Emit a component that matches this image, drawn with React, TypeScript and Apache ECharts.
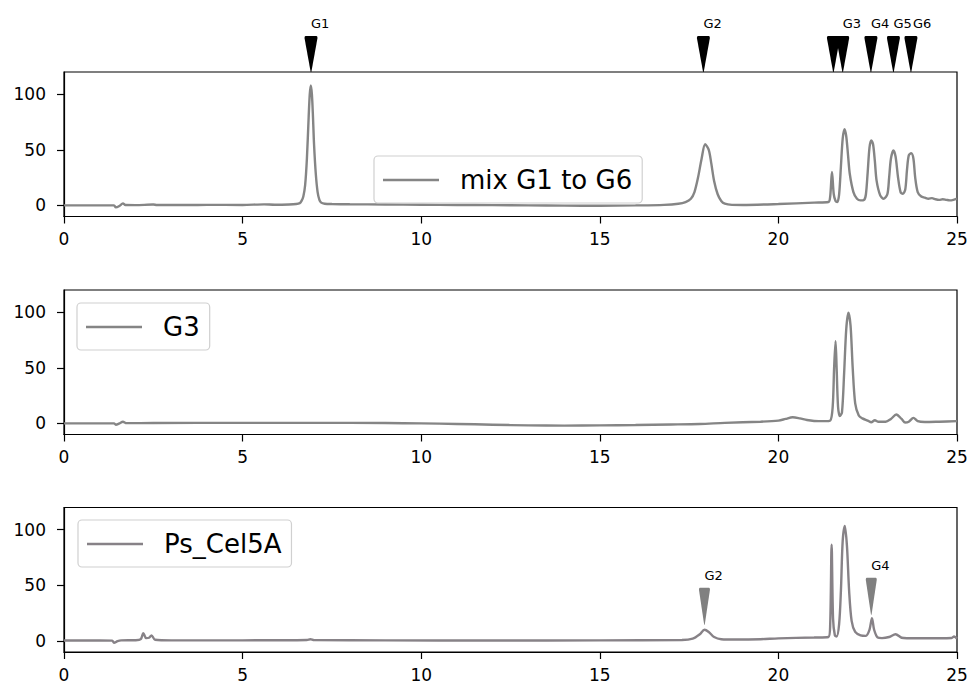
import React, { useEffect, useRef } from "react";
import * as echarts from "echarts";

// ---- Data ----
const mixName = "mix G1 to G6";
const mixX = [0, 1.0, 1.4, 1.45, 1.55, 1.65, 1.72, 2.0, 2.5, 2.6, 3.5, 4.0, 5.0, 5.6, 5.9, 6.3, 6.5, 6.6, 6.65, 6.7, 6.75, 6.8, 6.85, 6.88, 6.91, 6.94, 6.97, 7.0, 7.05, 7.1, 7.15, 7.2, 7.3, 7.5, 8, 9, 10, 11, 12, 13, 14, 15, 16, 16.8, 17.2, 17.4, 17.55, 17.65, 17.75, 17.85, 17.95, 18.05, 18.12, 18.2, 18.3, 18.4, 18.5, 18.7, 19, 20, 21, 21.4, 21.45, 21.5, 21.55, 21.6, 21.65, 21.7, 21.75, 21.8, 21.85, 21.9, 21.95, 22.0, 22.1, 22.2, 22.3, 22.4, 22.45, 22.5, 22.55, 22.6, 22.65, 22.7, 22.75, 22.85, 22.95, 23.05, 23.1, 23.15, 23.22, 23.28, 23.35, 23.42, 23.48, 23.55, 23.6, 23.65, 23.72, 23.78, 23.83, 23.9, 24.0, 24.1, 24.2, 24.3, 24.4, 24.5, 24.6, 24.7, 24.8, 24.9, 25.0];
const mixY = [0, 0, 0, -1.8, -0.5, 1.8, 0.3, 0.2, 0.8, 0.3, 0.3, 0.5, 0.4, 0.9, 0.6, 0.8, 1.2, 2, 4, 8, 18, 42, 80, 100, 108, 100, 80, 55, 28, 12, 5, 2.5, 1.5, 1.2, 1, 0.8, 0.6, 0.4, 0.2, 0, -0.2, -0.3, 0, 0.5, 1.5, 3, 6, 12, 25, 42, 55, 50, 38, 22, 10, 4, 1.5, 0.5, 0.4, 1.2, 2.5, 3, 8, 30, 10, 4, 3, 10, 35, 60, 68.5, 62, 45, 28, 12, 6, 4.5, 5, 10, 30, 52, 58.5, 55, 40, 22, 9, 6, 10, 25, 42, 49.5, 44, 25, 12, 10.5, 14, 32, 45, 47, 42, 25, 12, 8, 7, 6, 6.5, 5.5, 5, 5.5, 5, 4.5, 5, 6];

const g3Name = "G3";
const g3X = [0, 1.0, 1.4, 1.45, 1.55, 1.65, 1.75, 2.5, 5, 7, 9, 10, 11, 12, 13, 14, 15, 16, 17, 17.8, 18.5, 19.5, 20.0, 20.2, 20.4, 20.6, 20.8, 21.0, 21.3, 21.45, 21.52, 21.56, 21.6, 21.63, 21.67, 21.72, 21.78, 21.84, 21.9, 21.96, 22.02, 22.08, 22.15, 22.25, 22.35, 22.5, 22.6, 22.7, 22.8, 23.0, 23.15, 23.3, 23.45, 23.55, 23.65, 23.78, 23.9, 24.1, 24.5, 25];
const g3Y = [0, 0, 0, -1.2, 0, 1.5, 0.2, 0.3, 0.5, 0.5, 0.3, 0, -0.5, -1.2, -1.8, -2, -1.8, -1.5, -1, -0.5, 0.5, 1.5, 2.5, 4, 5.5, 4.5, 3, 2.2, 2, 2.5, 15, 50, 74, 50, 15, 6.5, 10, 45, 85, 99.5, 88, 50, 18, 7, 4.5, 2.5, 1, 2.8, 1.5, 1.5, 4, 8, 4, 0.8, 1.5, 5, 2, 1.2, 1.5, 2];

const celName = "Ps_Cel5A";
const celX = [0, 1.0, 1.35, 1.4, 1.5, 1.6, 2.0, 2.15, 2.22, 2.3, 2.38, 2.45, 2.55, 3, 5, 6.8, 6.9, 7.0, 9, 12, 15, 17.3, 17.6, 17.8, 17.93, 18.05, 18.2, 18.4, 18.8, 19.5, 20, 21, 21.4, 21.45, 21.49, 21.53, 21.58, 21.63, 21.7, 21.75, 21.8, 21.86, 21.92, 21.98, 22.05, 22.15, 22.3, 22.45, 22.55, 22.62, 22.68, 22.78, 22.9, 23.1, 23.28, 23.45, 23.6, 24, 24.5, 24.85, 24.92, 25];
const celY = [0.3, 0.3, 0.2, -1.8, -0.2, 0.5, 0.6, 1.5, 7, 2.5, 2.8, 5, 1, 0.5, 0.5, 0.8, 1.5, 0.7, 0.5, 0.3, 0.5, 0.8, 2, 6, 10, 8, 3.5, 1.5, 1.2, 1.5, 2.3, 3, 3.5, 15, 86.5, 20, 5, 4, 15, 45, 90, 103.5, 85, 45, 18, 8, 5, 4.5, 10, 20.5, 10, 3, 2.5, 3.5, 6, 2.8, 2.4, 2.4, 2.4, 2.6, 4, 2];

const topArrowX = [6.915, 17.9, 21.54, 21.8, 22.59, 23.22, 23.71];
const topArrowLabels = ["G1", "G2", "", "G3", "G4", "G5", "G6"];
const topArrowY = 120;

const celArrowX = [17.93, 22.6];
const celArrowY = [14.5, 23.5];
const celArrowLabels = ["G2", "G4"];

const xTicks = { min: 0, max: 25, interval: 5 };
const yTickValues = [0, 50, 100];

// ---- Chart ----
const FONT = "DejaVu Sans";
const wedge = "path://M1,0 L11,0 Q12,0 12,2 L6.3,36 L5.7,36 L0,2 Q0,0 1,0 Z";

const zip = (xs: number[], ys: number[]) => xs.map((x, i) => [x, ys[i]]);

export default function App() {
  const ref = useRef<HTMLDivElement>(null);
  useEffect(() => {
    document.body.style.margin = "0";
    const chart = echarts.init(ref.current!, undefined, { renderer: "svg" });
    const tops = [72, 290, 507.5];
    const grid = tops.map((t) => ({
      left: 64,
      top: t,
      width: 893,
      height: 144.5,
      show: true,
      borderColor: "#000",
      borderWidth: 1.2,
      backgroundColor: "transparent",
    }));
    const xAxis = tops.map((_, i) => ({
      type: "value",
      gridIndex: i,
      min: xTicks.min,
      max: xTicks.max,
      interval: xTicks.interval,
      axisLine: { show: true, onZero: false, lineStyle: { color: "#000", width: 1.2 } },
      axisTick: { show: true, inside: false, length: 7, lineStyle: { color: "#000", width: 1.2 } },
      axisLabel: { color: "#000", fontFamily: FONT, fontSize: 17, margin: 14 },
      splitLine: { show: false },
    }));
    const yAxis = tops.map((_, i) => ({
      type: "value",
      gridIndex: i,
      min: -10,
      max: 120,
      axisLine: { show: true, onZero: false, lineStyle: { color: "#000", width: 1.2 } },
      axisTick: { show: true, inside: false, length: 7, customValues: yTickValues, lineStyle: { color: "#000", width: 1.2 } },
      axisLabel: { color: "#000", fontFamily: FONT, fontSize: 17, margin: 18, customValues: yTickValues },
      splitLine: { show: false },
    }));
    const lineSeries = (name: string, xs: number[], ys: number[], idx: number, color: string) => ({
      type: "line",
      name,
      xAxisIndex: idx,
      yAxisIndex: idx,
      data: zip(xs, ys),
      symbol: "none",
      smooth: 0.3,
      lineStyle: { color, width: 2.4 },
      itemStyle: { color },
      clip: true,
    });
    const legendBase = (name: string, left: number, top: number) => ({
      data: [name],
      left,
      top,
      orient: "vertical",
      icon: "rect",
      padding: [11, 10, 10, 9],
      itemWidth: 56,
      itemHeight: 2.4,
      backgroundColor: "rgba(255,255,255,0.85)",
      borderColor: "#d0d0d0",
      borderWidth: 1.2,
      borderRadius: 4,
      textStyle: { fontFamily: FONT, fontSize: 26, color: "#000", padding: [0, 0, 0, 16] },
      selectedMode: false,
    });
    const arrowLabel = {
      show: true,
      position: "top",
      align: "left",
      distance: 6,
      formatter: "{b}",
      fontFamily: FONT,
      fontSize: 13,
      color: "#000",
    };
    const option: any = {
      animation: false,
      backgroundColor: "#fff",
      grid,
      xAxis,
      yAxis,
      legend: [
        legendBase(mixName, 374, 156),
        legendBase(g3Name, 77, 303),
        legendBase(celName, 78, 520),
      ],
      series: [
        lineSeries(mixName, mixX, mixY, 0, "#858585"),
        lineSeries(g3Name, g3X, g3Y, 1, "#858585"),
        lineSeries(celName, celX, celY, 2, "#878287"),
        {
          type: "scatter",
          xAxisIndex: 0,
          yAxisIndex: 0,
          clip: false,
          symbol: wedge,
          symbolSize: [13, 36],
          symbolOffset: [0, "-50%"],
          itemStyle: { color: "#000", opacity: 1 },
          label: arrowLabel,
          data: topArrowX.map((x, i) => ({
            name: topArrowLabels[i],
            value: [x, topArrowY],
            label: i === topArrowX.length - 1 ? { offset: [2, 0] } : undefined,
          })),
          z: 5,
        },
        {
          type: "scatter",
          xAxisIndex: 2,
          yAxisIndex: 2,
          clip: false,
          symbol: wedge,
          symbolSize: [11, 37],
          symbolOffset: [0, "-50%"],
          itemStyle: { color: "#808080", opacity: 1 },
          label: arrowLabel,
          data: celArrowX.map((x, i) => ({ name: celArrowLabels[i], value: [x, celArrowY[i]] })),
          z: 5,
        },
      ],
    };
    chart.setOption(option);
    return () => chart.dispose();
  }, []);
  return <div ref={ref} style={{ width: 971, height: 687 }} />;
}
